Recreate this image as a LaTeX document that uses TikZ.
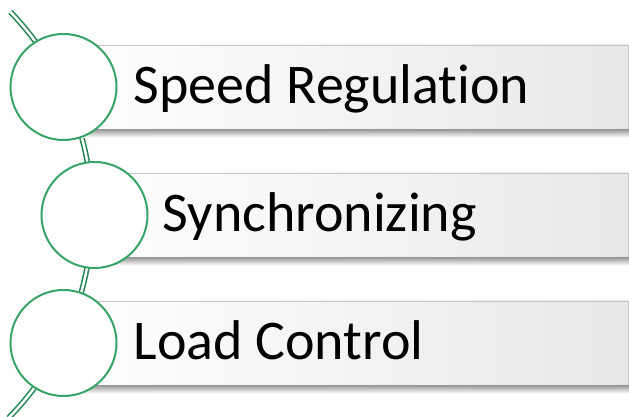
\documentclass[tikz,border=0pt]{standalone}
\usepackage{fontspec}
\setmainfont{Carlito}[Ligatures=NoCommon]
\usepackage{tikz}
\usetikzlibrary{positioning,calc}
\definecolor{ringgreen}{RGB}{56,164,104}
\definecolor{arcgreen}{RGB}{40,136,86}
\tikzset{
  bar/.style={draw=black!22,line width=0.8pt,left color=white,right color=black!9,
    minimum width=#1,minimum height=84pt,inner sep=0pt,anchor=west},
  ring/.style={circle,draw=ringgreen,line width=2pt,fill=white,
    minimum size=106pt,inner sep=0pt},
  itemtext/.style={anchor=base west,inner sep=0pt,font=\fontsize{56pt}{60pt}\selectfont}
}
\begin{document}
\begin{tikzpicture}[x=1pt,y=1pt]
\useasboundingbox (0,0) rectangle (629,417);
\clip (0,0) rectangle (629,417);
% Centres of the circles
\coordinate (C1) at (63.5,330);
\coordinate (C2) at (94.5,202);
\coordinate (C3) at (63.5,74);
\coordinate (O) at (-199,203);

% Draw the double arc through the circles
\draw[arcgreen,line width=1.6pt,double=white,double distance=2.4pt]
   ($(O)+(-44.5:291)$) arc [start angle=-44.5,end angle=44,radius=291];

% Draw the bars
\node[bar=564.5pt] (bar1) at (C1) {};
\node[bar=533.5pt] (bar2) at (C2) {};
\node[bar=564.5pt] (bar3) at (C3) {};

% Shadows under the bars
\shade[top color=black!40,bottom color=white] (bar1.south west) rectangle ($(bar1.south east)+(0,-8)$);
\shade[top color=black!40,bottom color=white] (bar2.south west) rectangle ($(bar2.south east)+(0,-8)$);
\shade[top color=black!40,bottom color=white] (bar3.south west) rectangle ($(bar3.south east)+(0,-8)$);

% Circles on the arc
\node[ring] (ring1) at (C1) {};
\node[ring] (ring2) at (C2) {};
\node[ring] (ring3) at (C3) {};

% Texts
\node[itemtext] (txt1) at ($(C1)+(70,-17)$) {Speed Regulation};
\node[itemtext] (txt2) at ($(C2)+(68,-17)$) {Synchronizing};
\node[itemtext] (txt3) at ($(C3)+(70,-17)$) {Load Control};
\end{tikzpicture}
\end{document}
